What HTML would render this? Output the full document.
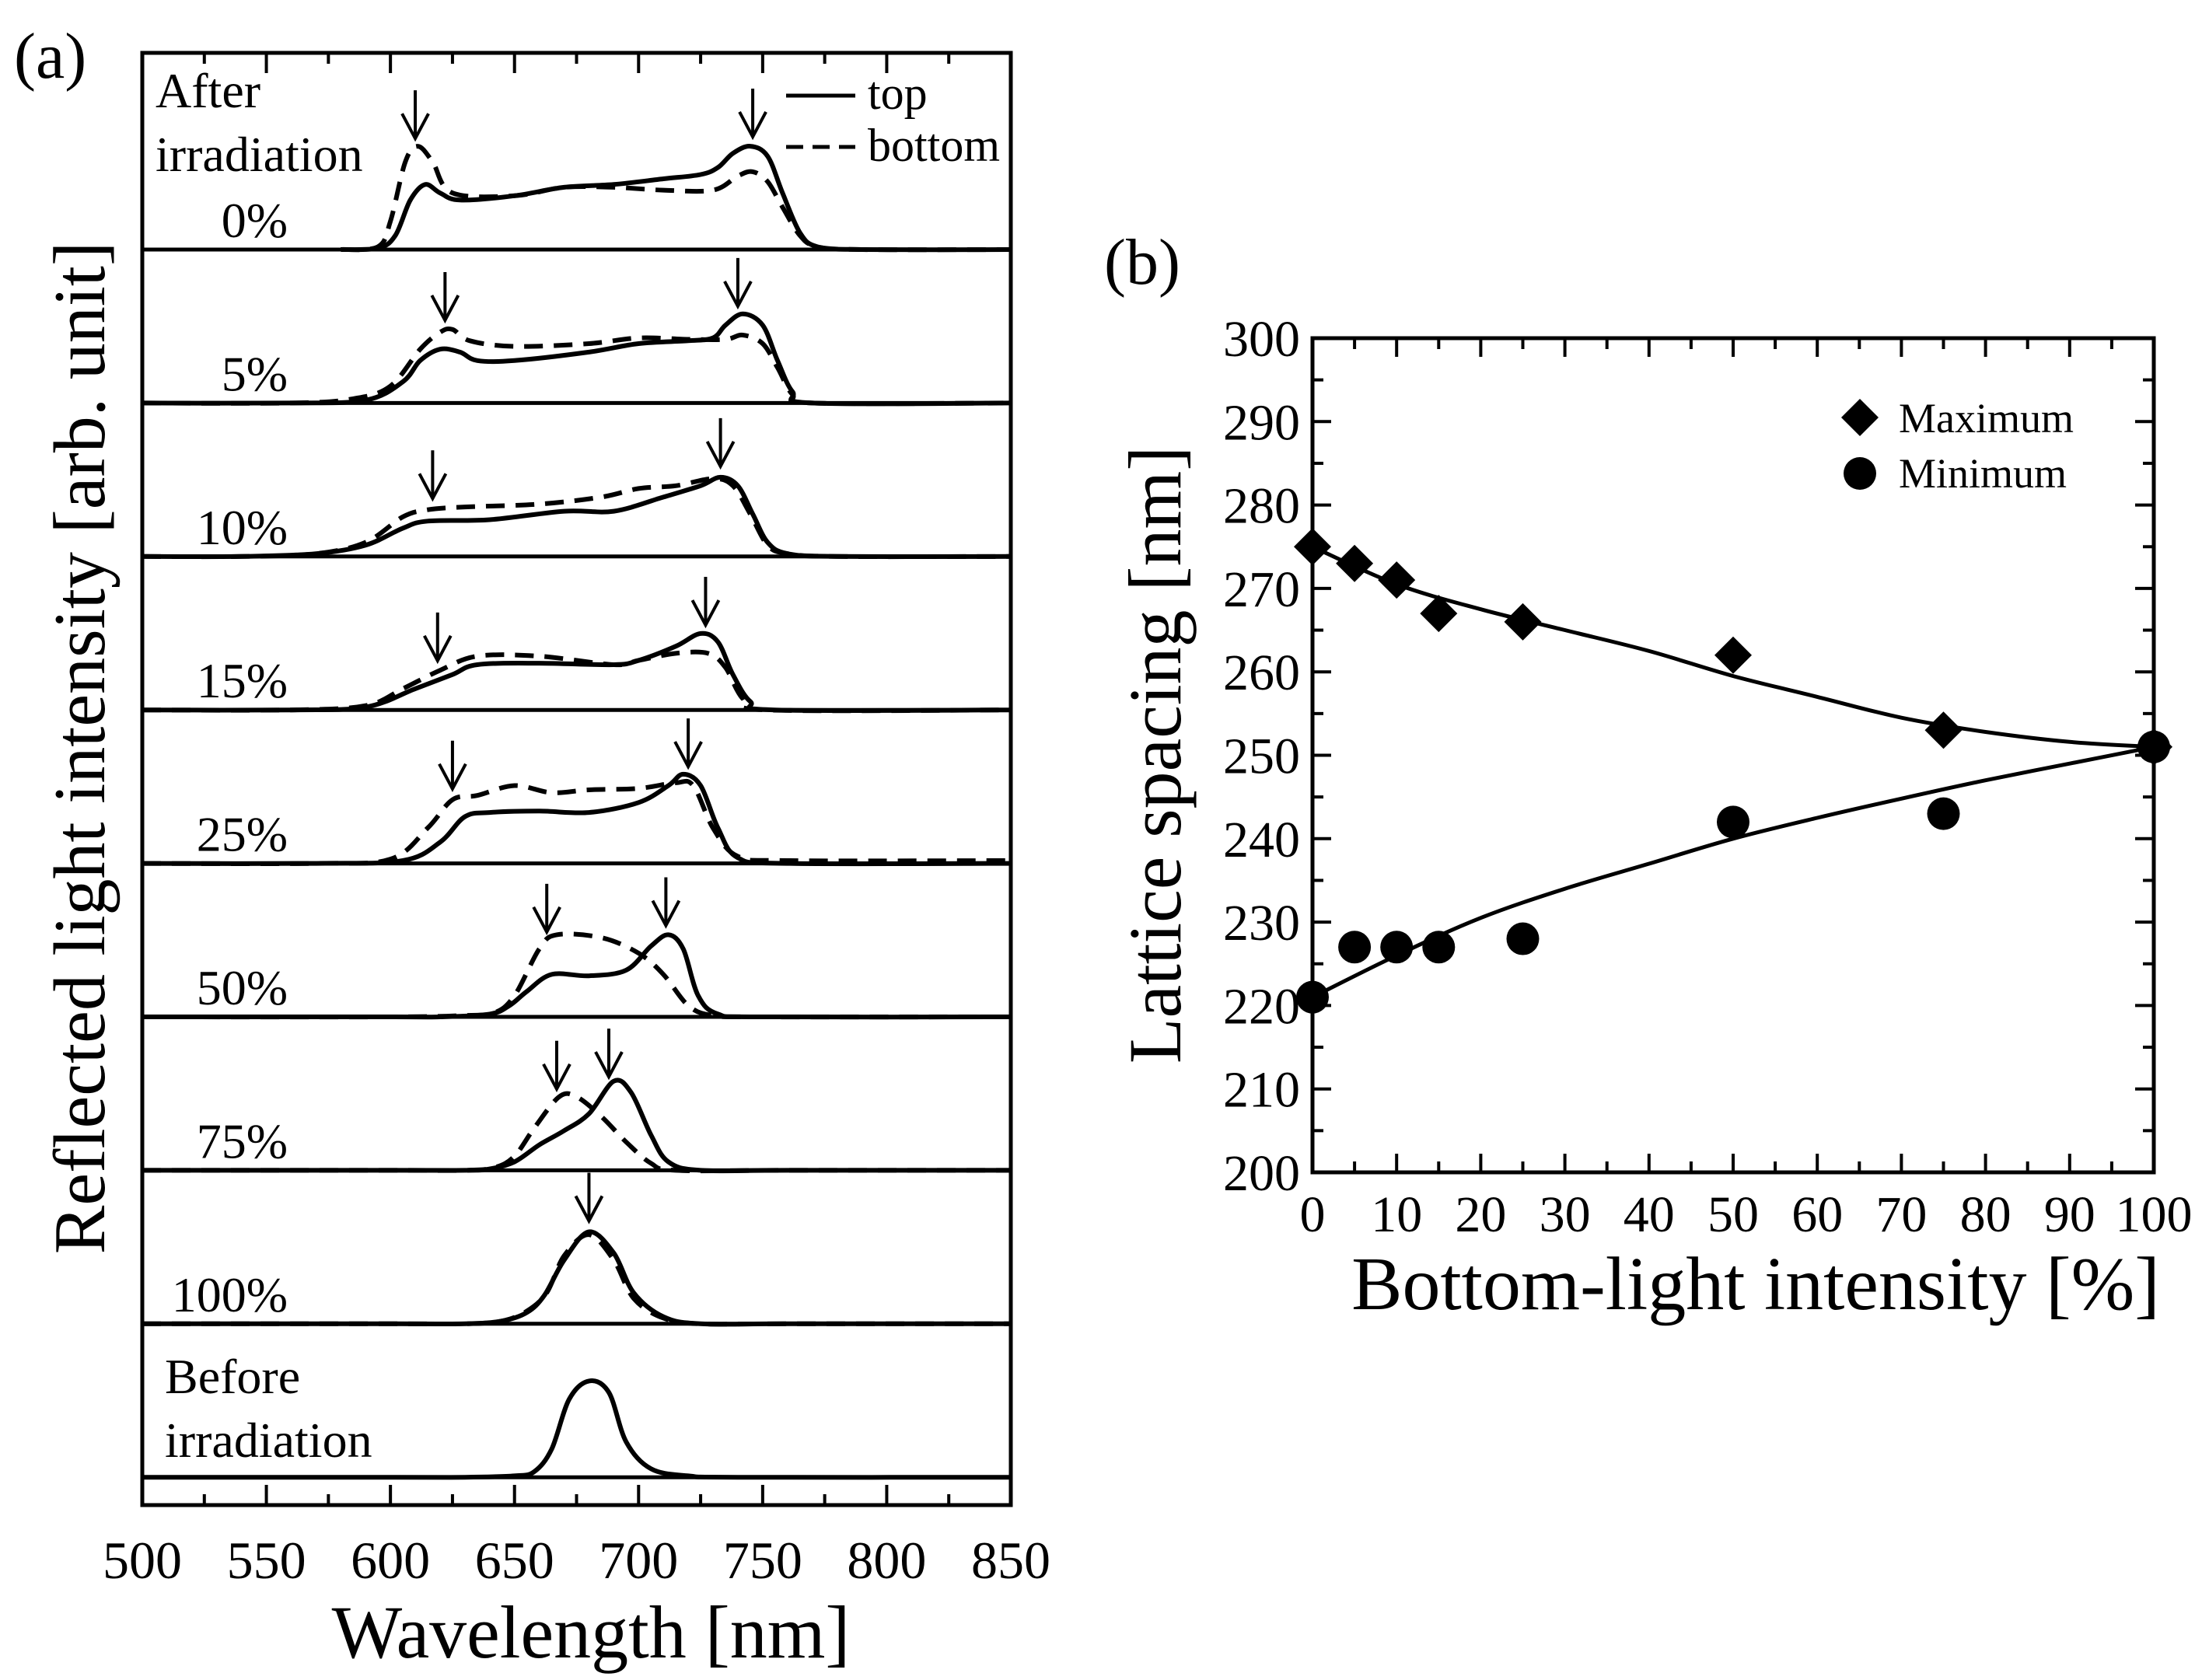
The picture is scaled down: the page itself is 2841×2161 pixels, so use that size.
<!DOCTYPE html>
<html><head><meta charset="utf-8"><style>
html,body{margin:0;padding:0;background:#fff}
svg{display:block}
text{font-family:"Liberation Serif",serif;fill:#000}
</style></head><body>
<svg id="fig" width="2841" height="2161" viewBox="0 0 2841 2161" xmlns="http://www.w3.org/2000/svg">
<g id="pa"></g>
<g id="pb"></g>
</svg>
<script>
// ---------- Panel (a) data ----------
const panelLabels = ["0%","5%","10%","15%","25%","50%","75%","100%"];
const topSpectra = [
 [[580,0],[595,1],[602,10],[608,35],[614,46],[620,40],[628,35],[650,38],[670,44],[690,46],[710,50],[725,53],[732,58],[738,68],[745,73],[752,66],[758,40],[765,12],[772,2],[790,0],[850,0]],
 [[500,0],[560,0],[590,2],[605,15],[612,30],[620,38],[628,36],[635,30],[650,30],[680,36],[700,42],[720,44],[730,46],[735,55],[742,63],[750,55],[756,30],[762,8],[770,0],[850,0]],
 [[500,0],[540,0],[570,2],[590,8],[605,20],[615,25],[640,26],[670,32],[690,32],[710,42],[725,50],[733,56],[740,50],[746,30],[752,10],[760,2],[780,0],[850,0]],
 [[500,0],[560,0],[590,2],[610,15],[625,25],[635,32],[660,33],[690,32],[700,35],[715,45],[725,54],[732,48],[738,25],[745,6],[755,0],[850,0]],
 [[500,0],[570,0],[605,2],[620,15],[630,33],[640,36],[660,37],[680,36],[700,43],[712,55],[718,63],[725,55],[732,25],[740,4],[760,0],[850,0]],
 [[500,0],[600,0],[620,0],[640,2],[648,8],[655,18],[665,30],[680,29],[695,33],[705,50],[712,58],[718,48],[724,15],[732,2],[750,0],[850,0]],
 [[500,0],[600,0],[630,0],[640,1],[650,6],[660,18],[670,28],[680,40],[690,63],[697,55],[705,25],[712,6],[725,0],[760,0],[850,0]],
 [[500,0],[600,0],[630,0],[645,2],[655,8],[662,20],[670,45],[680,65],[690,50],[698,22],[710,5],[725,0],[760,0],[850,0]]
];
const bottomSpectra = [
 [[580,0],[595,2],[600,20],[606,62],[611,73],[617,62],[625,40],[650,38],[670,44],[690,44],[710,42],[730,42],[740,52],[746,55],[752,48],[758,30],[765,10],[772,2],[790,0],[850,0]],
 [[500,0],[560,0],[585,3],[600,12],[612,38],[620,50],[625,52],[632,44],[650,40],[680,42],[700,46],[720,45],[735,45],[742,48],[750,42],[756,25],[762,6],[770,0],[850,0]],
 [[500,0],[540,0],[570,2],[590,10],[605,28],[615,33],[630,35],[660,37],[685,42],[700,48],[715,50],[730,55],[738,50],[745,30],[752,8],[760,2],[780,0],[850,0]],
 [[500,0],[560,0],[590,3],[605,15],[620,28],[635,38],[660,38],[690,32],[700,35],[715,40],[728,40],[735,30],[742,8],[752,0],[850,0]],
 [[500,0],[570,0],[600,3],[615,25],[625,45],[635,48],[650,55],[665,50],[680,52],[700,53],[715,57],[722,55],[730,25],[740,5],[760,2],[850,2]],
 [[500,0],[600,0],[630,1],[642,3],[650,15],[660,48],[667,58],[685,56],[700,45],[710,30],[720,8],[730,1],[750,0],[850,0]],
 [[500,0],[600,0],[630,0],[642,2],[650,10],[658,30],[668,52],[675,52],[685,38],[695,20],[705,5],[715,0],[760,0],[850,0]],
 [[500,0],[600,0],[630,0],[645,2],[655,9],[663,22],[670,48],[680,63],[690,45],[698,18],[710,4],[725,0],[760,0],[850,0]]
];
const beforeSpectrum = [[500,0],[600,0],[630,0],[650,1],[658,4],[665,20],[672,55],[680,68],[688,60],[695,25],[705,6],[720,1],[740,0],[850,0]];
const arrowPositions = [[610,746],[622,740],[617,733],[619,727],[625,720],[663,711],[667,688],[680]];
const xTicksA = [500,550,600,650,700,750,800,850];

// ---------- Panel (b) data ----------
const bCategories = [0,5,10,15,25,50,75,100];
const maxValues = [275,273,271,267,266,262,253,251];
const minValues = [221,227,227,227,228,242,243,251];
const fitX = [0,10,20,30,40,50,60,70,80,90,100];
const maxFit = [275,270.5,267.5,265,262.5,259.5,257,254.5,252.8,251.6,251];
const minFit = [221,226,230.5,234,237,240,242.5,244.8,247,249,251];
const xTicksB = [0,10,20,30,40,50,60,70,80,90,100];
const yTicksB = [200,210,220,230,240,250,260,270,280,290,300];

const NS="http://www.w3.org/2000/svg";
function mk(parent,tag,attrs,txt){const e=document.createElementNS(NS,tag);for(const k in attrs)e.setAttribute(k,attrs[k]);if(txt!==undefined)e.textContent=txt;parent.appendChild(e);return e;}
function smoothPath(pts){
  let d="M"+pts[0][0].toFixed(1)+","+pts[0][1].toFixed(1);
  for(let i=0;i<pts.length-1;i++){
    const p0=pts[Math.max(0,i-1)],p1=pts[i],p2=pts[i+1],p3=pts[Math.min(pts.length-1,i+2)];
    const c1=[p1[0]+(p2[0]-p0[0])/6,p1[1]+(p2[1]-p0[1])/6];
    const c2=[p2[0]-(p3[0]-p1[0])/6,p2[1]-(p3[1]-p1[1])/6];
    d+=" C"+c1[0].toFixed(1)+","+c1[1].toFixed(1)+" "+c2[0].toFixed(1)+","+c2[1].toFixed(1)+" "+p2[0].toFixed(1)+","+p2[1].toFixed(1);
  }
  return d;
}
function interp(pts,x){for(let i=0;i<pts.length-1;i++){if(x>=pts[i][0]&&x<=pts[i+1][0]){const t=(x-pts[i][0])/(pts[i+1][0]-pts[i][0]);return pts[i][1]+t*(pts[i+1][1]-pts[i][1]);}}return 0;}

// ---------- Draw (a) ----------
const pa=document.getElementById('pa');
const AL=183,AR=1300,AT=68,AB=1936,BASE0=321,STEP=197.4,AMP=1.82;
const xA=w=>AL+(w-500)*(AR-AL)/350;
const baseY=i=>BASE0+i*STEP;
const yA=(i,v)=>baseY(i)-v*AMP;

let e=mk(pa,'rect',{x:AL,y:AT,width:AR-AL,height:AB-AT,fill:'none',stroke:'#000','stroke-width':5});


for(let w=500;w<=850;w+=25){
  const major=(w%50===0);const L=major?26:14;
  e=mk(pa,'line',{x1:xA(w),y1:AB,x2:xA(w),y2:AB-L,stroke:'#000','stroke-width':4});
  
  
  e=mk(pa,'line',{x1:xA(w),y1:AT,x2:xA(w),y2:AT+L,stroke:'#000','stroke-width':4});
  
  
}
xTicksA.forEach(w=>{
  e=mk(pa,'text',{x:xA(w),y:2030,'font-size':68,'text-anchor':'middle'},String(w));
  
  
});
for(let i=0;i<=8;i++){
  e=mk(pa,'line',{x1:AL,y1:baseY(i),x2:AR,y2:baseY(i),stroke:'#000','stroke-width':5});
  
  
}
function spec(i,data,dashed,name){
  const p=data.map(d=>[xA(d[0]),yA(i,d[1])]);
  const a={d:smoothPath(p),fill:'none',stroke:'#000','stroke-width':6,'stroke-linejoin':'round'};
  if(dashed)a['stroke-dasharray']='24,14';
  const el=mk(pa,'path',a);
  
  
}
panelLabels.forEach((lab,i)=>{
  spec(i,bottomSpectra[i],true,'bottom-spectrum-'+lab.replace('%','pct'));
  spec(i,topSpectra[i],false,'top-spectrum-'+lab.replace('%','pct'));
  e=mk(pa,'text',{x:370,y:baseY(i)-16,'font-size':64,'text-anchor':'end'},lab);
  
  
  arrowPositions[i].forEach(w=>{
    const pk=Math.max(interp(topSpectra[i],w),interp(bottomSpectra[i],w));
    const tip=yA(i,pk)-14, x=xA(w);
    const g=mk(pa,'g',{});
    
    
    mk(g,'line',{x1:x,y1:tip-62,x2:x,y2:tip,stroke:'#000','stroke-width':4});
    mk(g,'polyline',{points:(x-17)+','+(tip-32)+' '+x+','+tip+' '+(x+17)+','+(tip-32),fill:'none',stroke:'#000','stroke-width':4});
  });
});
spec(8,beforeSpectrum,false,'before-irradiation-spectrum');
e=mk(pa,'text',{x:200,y:138,'font-size':64},'After');


e=mk(pa,'text',{x:200,y:220,'font-size':64},'irradiation');


e=mk(pa,'text',{x:212,y:1792,'font-size':64},'Before');


e=mk(pa,'text',{x:212,y:1874,'font-size':64},'irradiation');


// legend
e=mk(pa,'line',{x1:1011,y1:123,x2:1100,y2:123,stroke:'#000','stroke-width':5});


e=mk(pa,'text',{x:1116,y:140,'font-size':60},'top');


e=mk(pa,'line',{x1:1011,y1:189,x2:1100,y2:189,stroke:'#000','stroke-width':5,'stroke-dasharray':'22,12'});


e=mk(pa,'text',{x:1116,y:207,'font-size':60},'bottom');


e=mk(pa,'text',{x:760,y:2132,'font-size':96,'text-anchor':'middle'},'Wavelength [nm]');


e=mk(pa,'text',{x:0,y:0,'font-size':94,'text-anchor':'middle',transform:'translate(134,962) rotate(-90)'},'Reflected light intensity [arb. unit]');


e=mk(pa,'text',{x:18,y:100,'font-size':84},'(a)');



// ---------- Draw (b) ----------
const pb=document.getElementById('pb');
const BL=1688,BR=2770,BT=435,BB=1508;
const xB=v=>BL+v*(BR-BL)/100;
const yB=v=>BB-(v-200)*(BB-BT)/100;
e=mk(pb,'rect',{x:BL,y:BT,width:BR-BL,height:BB-BT,fill:'none',stroke:'#000','stroke-width':5});


for(let v=0;v<=100;v+=5){
  const L=(v%10===0)?24:14;
  e=mk(pb,'line',{x1:xB(v),y1:BB,x2:xB(v),y2:BB-L,stroke:'#000','stroke-width':4});
  
  
  e=mk(pb,'line',{x1:xB(v),y1:BT,x2:xB(v),y2:BT+L,stroke:'#000','stroke-width':4});
  
  
}
for(let v=200;v<=300;v+=5){
  const L=(v%10===0)?24:14;
  e=mk(pb,'line',{x1:BL,y1:yB(v),x2:BL+L,y2:yB(v),stroke:'#000','stroke-width':4});
  
  
  e=mk(pb,'line',{x1:BR,y1:yB(v),x2:BR-L,y2:yB(v),stroke:'#000','stroke-width':4});
  
  
}
xTicksB.forEach(v=>{
  e=mk(pb,'text',{x:xB(v),y:1584,'font-size':66,'text-anchor':'middle'},String(v));
  
  
});
yTicksB.forEach(v=>{
  e=mk(pb,'text',{x:1672,y:yB(v)+23,'font-size':66,'text-anchor':'end'},String(v));
  
  
});
e=mk(pb,'path',{d:smoothPath(fitX.map((x,i)=>[xB(x),yB(maxFit[i])])),fill:'none',stroke:'#000','stroke-width':5});


e=mk(pb,'path',{d:smoothPath(fitX.map((x,i)=>[xB(x),yB(minFit[i])])),fill:'none',stroke:'#000','stroke-width':5});


const D=24,R=21;
bCategories.forEach((c,i)=>{
  const x=xB(c),y=yB(maxValues[i]);
  e=mk(pb,'polygon',{points:x+','+(y-D)+' '+(x+D)+','+y+' '+x+','+(y+D)+' '+(x-D)+','+y,fill:'#000'});
  
  
  e=mk(pb,'circle',{cx:x,cy:yB(minValues[i]),r:R,fill:'#000'});
  
  
});
e=mk(pb,'polygon',{points:'2392,513 2416,537 2392,561 2368,537',fill:'#000'});


e=mk(pb,'text',{x:2442,y:556,'font-size':54},'Maximum');


e=mk(pb,'circle',{cx:2392,cy:609,r:21,fill:'#000'});


e=mk(pb,'text',{x:2442,y:627,'font-size':54},'Minimum');


e=mk(pb,'text',{x:2258,y:1684,'font-size':98,'text-anchor':'middle'},'Bottom-light intensity [%]');


e=mk(pb,'text',{x:0,y:0,'font-size':96,'text-anchor':'middle',transform:'translate(1518,971) rotate(-90)'},'Lattice spacing [nm]');


e=mk(pb,'text',{x:1420,y:365,'font-size':84},'(b)');


</script>
</body></html>
